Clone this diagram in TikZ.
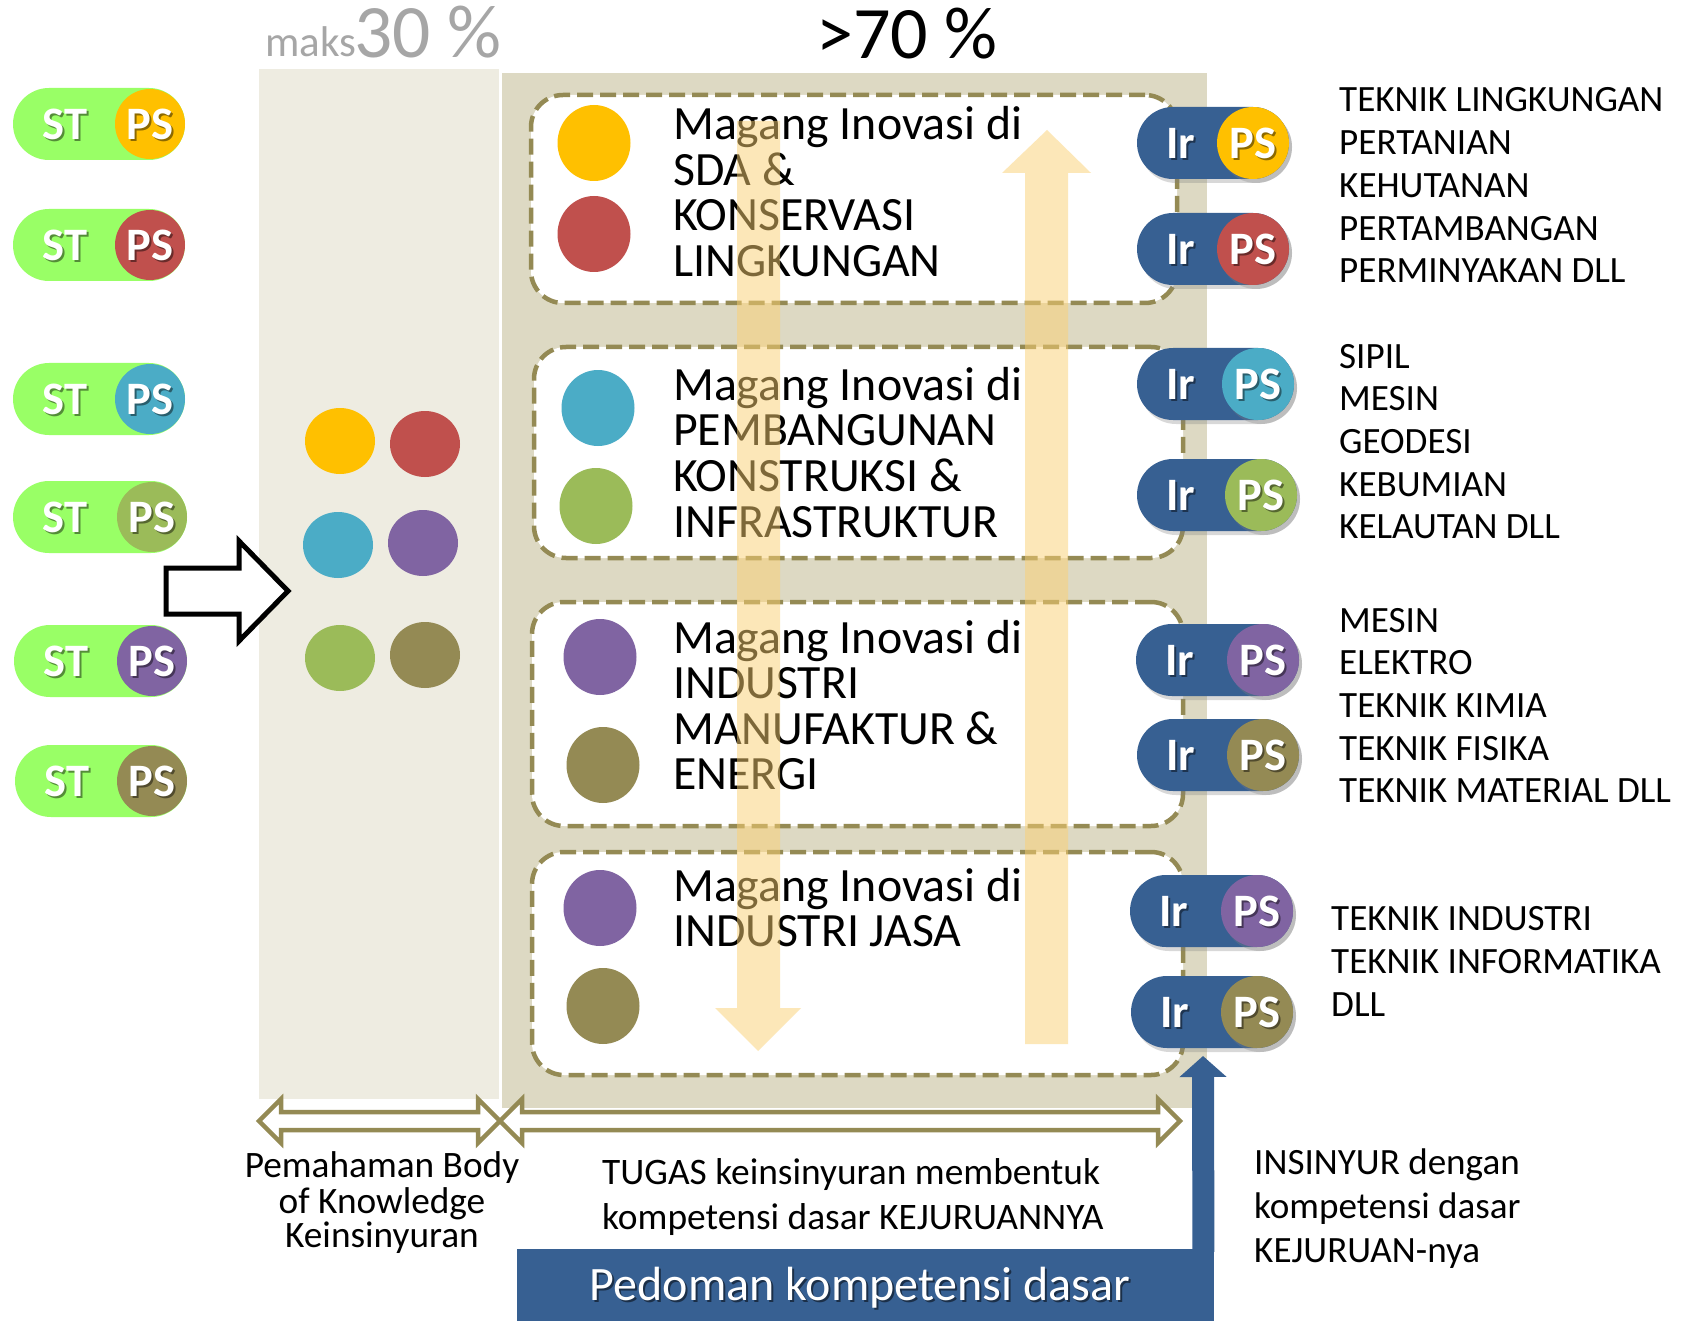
\documentclass[tikz,border=0pt]{standalone}
\usepackage{fontspec}
\setmainfont{Carlito}
\usetikzlibrary{shapes.geometric,shapes.misc,shadows,arrows.meta}

\definecolor{stgreen}{HTML}{99FF66}
\definecolor{cyel}{HTML}{FFC000}
\definecolor{cred}{HTML}{C0504D}
\definecolor{ccyan}{HTML}{4BACC6}
\definecolor{cgreen}{HTML}{9BBB59}
\definecolor{cpurple}{HTML}{8064A2}
\definecolor{colive}{HTML}{948A54}
\definecolor{cblue}{HTML}{376092}
\definecolor{panelA}{HTML}{EEECE1}
\definecolor{panelB}{HTML}{DDD9C3}
\definecolor{arrowy}{HTML}{FBD072}
\definecolor{pctgray}{HTML}{A6A6A6}

\newcommand{\fs}[2]{\fontsize{#1}{#2}\selectfont}

\tikzset{
 pilltxt/.style={inner sep=0pt, font=\bfseries\fs{46.5}{46}},
 stbody/.style={rounded rectangle, fill=stgreen, minimum height=72pt, inner sep=0pt},
 irbody/.style={rounded rectangle, fill=cblue, minimum height=72pt, inner sep=0pt,
   drop shadow={opacity=0.3, shadow xshift=3pt, shadow yshift=-4pt}},
 pscirc/.style={circle, minimum size=70pt, inner sep=0pt},
 irps/.style={circle, minimum size=72pt, inner sep=0pt,
   drop shadow={opacity=0.3, shadow xshift=3pt, shadow yshift=-4pt}},
 coldot/.style={ellipse, minimum width=70pt, minimum height=66pt, inner sep=0pt},
 bdot/.style={ellipse, minimum width=73pt, minimum height=76pt, inner sep=0pt},
 magbox/.style={rectangle, draw=colive, line width=4.5pt, dash pattern=on 16pt off 7pt,
   rounded corners=32pt, fill=white, inner sep=0pt},
 boxtxt/.style={anchor=base west, inner sep=0pt, font=\fs{47.8}{47}},
 sidetxt/.style={anchor=base west, inner sep=0pt, font=\fs{37.1}{37}},
 bottxt/.style={anchor=base, inner sep=0pt, font=\fs{37.3}{37}},
 flowarrow/.style={fill=arrowy, fill opacity=0.5},
 dblarrow/.style={draw=colive, line width=4.5pt, fill=white, line join=miter},
}

\newcommand{\wtxt}[4]{%
 \node[pilltxt, text=black, text opacity=0.45, xshift=2pt, yshift=-2pt] (#1sh) at (#2,#3) {#4};
 \node[pilltxt, text=white] (#1) at (#2,#3) {#4};}

\newcommand{\stpill}[5]{%
 \pgfmathsetmacro\pw{#3+35-(#5)}%
 \pgfmathsetmacro\pcx{(#3+35+#5)/2}%
 \node[stbody, minimum width=\pw pt] (#1) at (\pcx,#2) {};
 \node[pscirc, fill=#4] (#1ps) at (#3,#2) {};
 \wtxt{#1st}{#5+52}{#2}{ST}
 \wtxt{#1pt}{#3}{#2}{PS}}

\newcommand{\irpill}[5]{%
 \pgfmathsetmacro\pw{#3+36-(#5)}%
 \pgfmathsetmacro\pcx{(#3+36+#5)/2}%
 \node[irbody, minimum width=\pw pt] (#1) at (\pcx,#2) {};
 \node[irps, fill=#4] (#1ps) at (#3,#2) {};
 \wtxt{#1ir}{#5+44}{#2}{Ir}
 \wtxt{#1pt}{#3}{#2}{PS}}

\begin{document}
\begin{tikzpicture}[x=1pt, y=-1pt]
\useasboundingbox (0,0) rectangle (1686,1321);
\fill[white] (0,0) rectangle (1686,1321);

% panels
\node[fill=panelA, minimum width=240pt, minimum height=1030pt, inner sep=0pt, anchor=north west] (colA) at (259,69) {};
\node[fill=panelB, minimum width=705pt, minimum height=1035pt, inner sep=0pt, anchor=north west] (colB) at (502,73) {};

% percentages
\node[anchor=base west, inner sep=0pt, text=pctgray, font=\fs{43}{43}] (maks) at (265,57) {maks};
\node[anchor=base west, inner sep=0pt, text=pctgray, font=\fs{75.5}{75}] (p30) at (354,58) {30 \%};
\node[anchor=base west, inner sep=0pt, font=\fs{74}{74}] (p70) at (816,59) {>70 \%};

% column dots
\node[coldot, fill=cyel] (d1) at (340,441) {};
\node[coldot, fill=cred] (d2) at (425,444) {};
\node[coldot, fill=ccyan] (d3) at (338,545) {};
\node[coldot, fill=cpurple] (d4) at (423,543) {};
\node[coldot, fill=cgreen] (d5) at (340,658) {};
\node[coldot, fill=colive] (d6) at (425,655) {};

% hollow arrow
\draw[line width=5pt, fill=white, line join=miter] (166,568) -- (239,568) -- (239,541) -- (288,591) -- (239,641) -- (239,614) -- (166,614) -- cycle;

% ST pills
\stpill{s1}{124}{150}{cyel}{13}
\stpill{s2}{245}{150}{cred}{13}
\stpill{s3}{399}{150}{ccyan}{13}
\stpill{s4}{517}{152}{cgreen}{13}
\stpill{s5}{661}{152}{cpurple}{14}
\stpill{s6}{781}{152}{colive}{15}

% boxes
\node[magbox, minimum width=646pt, minimum height=208pt] (box1) at (854,199) {};
\node[magbox, minimum width=649pt, minimum height=211pt] (box2) at (858.5,452.5) {};
\node[magbox, minimum width=651pt, minimum height=224pt] (box3) at (857.5,714) {};
\node[magbox, minimum width=651pt, minimum height=223pt] (box4) at (857.5,963.5) {};

\node[bdot, fill=cyel] (b1a) at (594,143) {};
\node[bdot, fill=cred] (b1b) at (594,234) {};
\node[bdot, fill=ccyan] (b2a) at (598,408) {};
\node[bdot, fill=cgreen] (b2b) at (596,506) {};
\node[bdot, fill=cpurple] (b3a) at (600,657) {};
\node[bdot, fill=colive] (b3b) at (603,765) {};
\node[bdot, fill=cpurple] (b4a) at (600,908) {};
\node[bdot, fill=colive] (b4b) at (603,1006) {};

\foreach \t [count=\i from 0] in {Magang Inovasi di, SDA \&, KONSERVASI, LINGKUNGAN}
  \node[boxtxt] (ta\i) at (673,140+45.5*\i) {\t};
\foreach \t [count=\i from 0] in {Magang Inovasi di, PEMBANGUNAN, KONSTRUKSI \&, INFRASTRUKTUR}
  \node[boxtxt] (tb\i) at (673,400+45.8*\i) {\t};
\foreach \t [count=\i from 0] in {Magang Inovasi di, INDUSTRI, MANUFAKTUR \&, ENERGI}
  \node[boxtxt] (tc\i) at (673,653+45.6*\i) {\t};
\foreach \t [count=\i from 0] in {Magang Inovasi di, INDUSTRI JASA}
  \node[boxtxt] (td\i) at (673,901+45.6*\i) {\t};

% translucent flow arrows
\fill[flowarrow] (737,121) -- (780,121) -- (780,1008) -- (801,1008) -- (758,1051) -- (715,1008) -- (737,1008) -- cycle;
\fill[flowarrow] (1025,1044) -- (1068,1044) -- (1068,173) -- (1091,173) -- (1047,130) -- (1002,173) -- (1025,173) -- cycle;

% Ir pills
\irpill{r1}{143}{1253}{cyel}{1137}
\irpill{r2}{249}{1253}{cred}{1137}
\irpill{r3}{384}{1258}{ccyan}{1137}
\irpill{r4}{495}{1261}{cgreen}{1137}
\irpill{r5}{660}{1263}{cpurple}{1136}
\irpill{r6}{755}{1263}{colive}{1137}
\irpill{r7}{911}{1257}{cpurple}{1130}
\irpill{r8}{1012}{1257}{colive}{1131}

% side texts
\foreach \t [count=\i from 0] in {TEKNIK LINGKUNGAN, PERTANIAN, KEHUTANAN, PERTAMBANGAN, PERMINYAKAN DLL}
  \node[sidetxt] (ga\i) at (1339,112+42.7*\i) {\t};
\foreach \t [count=\i from 0] in {SIPIL, MESIN, GEODESI, KEBUMIAN, KELAUTAN DLL}
  \node[sidetxt] (gb\i) at (1339,368+42.7*\i) {\t};
\foreach \t [count=\i from 0] in {MESIN, ELEKTRO, TEKNIK KIMIA, TEKNIK FISIKA, TEKNIK MATERIAL DLL}
  \node[sidetxt] (gc\i) at (1339,632+42.7*\i) {\t};
\foreach \t [count=\i from 0] in {TEKNIK INDUSTRI, TEKNIK INFORMATIKA, DLL}
  \node[sidetxt] (gd\i) at (1331,930+43*\i) {\t};
\foreach \t [count=\i from 0] in {INSINYUR dengan, kompetensi dasar, KEJURUAN-nya}
  \node[sidetxt] (gi\i) at (1254,1174+44*\i) {\t};

% double arrows
\draw[dblarrow] (259,1121) -- (281,1099) -- (281,1112) -- (478,1112) -- (478,1099) -- (500,1121) -- (478,1143) -- (478,1130) -- (281,1130) -- (281,1143) -- cycle;
\draw[dblarrow] (500,1121) -- (522,1099) -- (522,1112) -- (1158,1112) -- (1158,1099) -- (1180,1121) -- (1158,1143) -- (1158,1130) -- (522,1130) -- (522,1143) -- cycle;

% bottom texts
\node[bottxt] (pa0) at (382,1177) {Pemahaman Body};
\node[bottxt] (pa1) at (382,1213) {of Knowledge};
\node[bottxt] (pa2) at (382,1247) {Keinsinyuran};
\node[sidetxt, font=\fs{37.4}{37}] (tg0) at (602,1184) {TUGAS keinsinyuran membentuk};
\node[sidetxt, font=\fs{37.4}{37}] (tg1) at (602,1229) {kompetensi dasar KEJURUANNYA};

% blue bar and arrow
\node[fill=cblue, minimum width=697pt, minimum height=72pt, inner sep=0pt, anchor=north west] (pedbar) at (517,1249) {};
\coordinate (blueTip) at (1203,1056);
\draw[cblue, line width=22pt, -{Triangle[width=46pt,length=21pt]}] ([xshift=-11pt,yshift=-3pt]pedbar.north east) -- (blueTip);
\node[anchor=base, inner sep=0pt, text=black, text opacity=0.5, font=\fs{48}{48}, xshift=2pt, yshift=-2pt] (pedsh) at (860,1300) {Pedoman kompetensi dasar};
\node[anchor=base, inner sep=0pt, text=white, font=\fs{48}{48}] (pedtxt) at (860,1300) {Pedoman kompetensi dasar};
\end{tikzpicture}
\end{document}
